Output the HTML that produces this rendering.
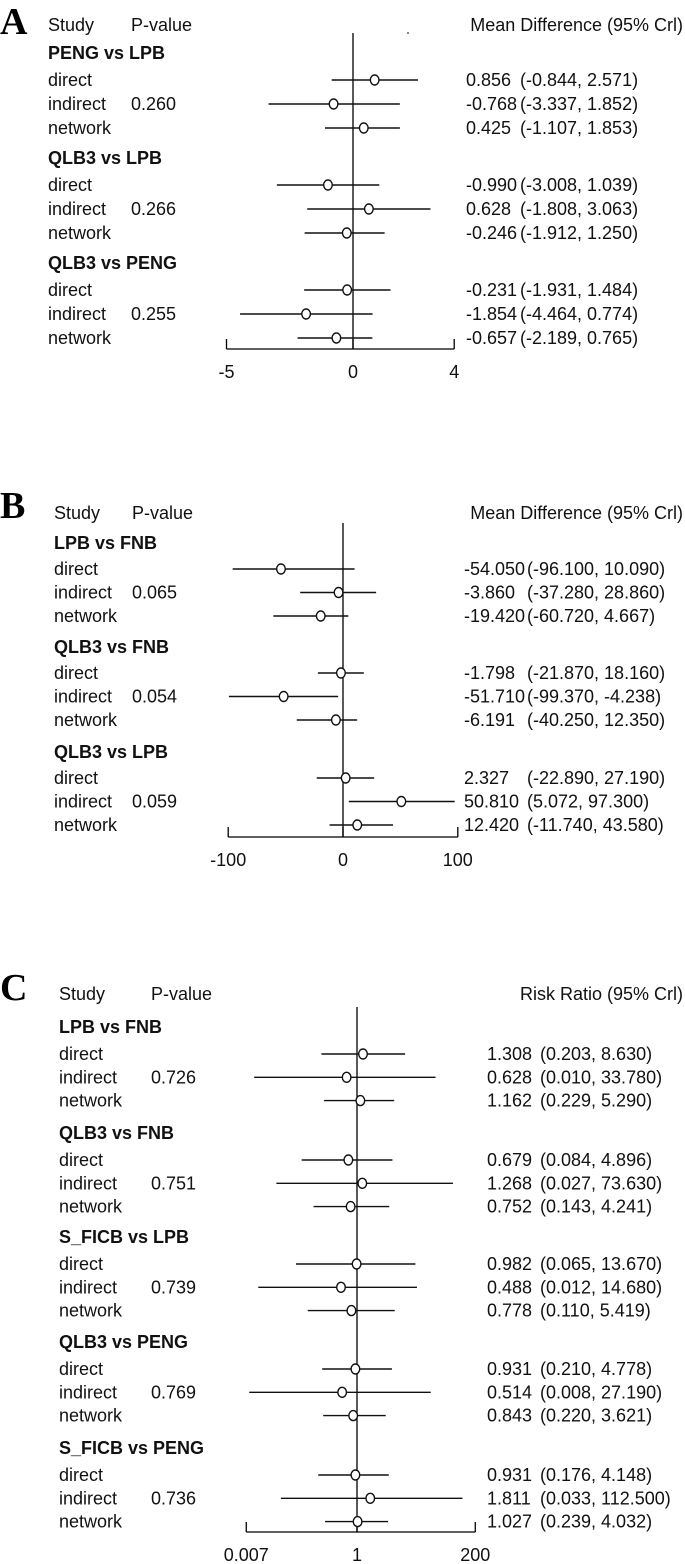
<!DOCTYPE html>
<html><head><meta charset="utf-8"><style>
html,body{margin:0;padding:0;background:#fff;}
svg{display:block;font-family:"Liberation Sans",Arial,sans-serif;}
</style></head><body>
<svg id="fig" width="685" height="1564" viewBox="0 0 685 1564" xmlns="http://www.w3.org/2000/svg"></svg>
<script>
// ---- Panel A data ----
const aGroups = ["PENG vs LPB","QLB3 vs LPB","QLB3 vs PENG"];
const aPvals = ["0.260","0.266","0.255"];
const aEst = [0.856,-0.768,0.425,-0.990,0.628,-0.246,-0.231,-1.854,-0.657];
const aLo = [-0.844,-3.337,-1.107,-3.008,-1.808,-1.912,-1.931,-4.464,-2.189];
const aHi = [2.571,1.852,1.853,1.039,3.063,1.250,1.484,0.774,0.765];
const aTicks = [-5,0,4];
const aTickLabels = ["-5","0","4"];
// ---- Panel B data ----
const bGroups = ["LPB vs FNB","QLB3 vs FNB","QLB3 vs LPB"];
const bPvals = ["0.065","0.054","0.059"];
const bEst = [-54.050,-3.860,-19.420,-1.798,-51.710,-6.191,2.327,50.810,12.420];
const bLo = [-96.100,-37.280,-60.720,-21.870,-99.370,-40.250,-22.890,5.072,-11.740];
const bHi = [10.090,28.860,4.667,18.160,-4.238,12.350,27.190,97.300,43.580];
const bTicks = [-100,0,100];
const bTickLabels = ["-100","0","100"];
// ---- Panel C data ----
const cGroups = ["LPB vs FNB","QLB3 vs FNB","S_FICB vs LPB","QLB3 vs PENG","S_FICB vs PENG"];
const cPvals = ["0.726","0.751","0.739","0.769","0.736"];
const cEst = [1.308,0.628,1.162,0.679,1.268,0.752,0.982,0.488,0.778,0.931,0.514,0.843,0.931,1.811,1.027];
const cLo = [0.203,0.010,0.229,0.084,0.027,0.143,0.065,0.012,0.110,0.210,0.008,0.220,0.176,0.033,0.239];
const cHi = [8.630,33.780,5.290,4.896,73.630,4.241,13.670,14.680,5.419,4.778,27.190,3.621,4.148,112.500,4.032];
const cTicks = [0.007,1,200];
const cTickLabels = ["0.007","1","200"];

const rowTypes = ["direct","indirect","network"];
const NS="http://www.w3.org/2000/svg";
const svg=document.getElementById('fig');
function mk(tag,attrs,parent){const e=document.createElementNS(NS,tag);for(const k in attrs)e.setAttribute(k,attrs[k]);(parent||svg).appendChild(e);return e;}
function txt(s,x,y,opts,parent){const t=mk('text',Object.assign({x:x,y:y,'font-size':18,fill:'#111'},opts||{}),parent);t.textContent=s;return t;}
function fmt(v){return v.toFixed(3);}

function panel(cfg){
  const g=mk('g',{});
  
  
  const X=cfg.x;
  const lt=txt(cfg.letter,0,cfg.letterY,{'font-size':38,'font-weight':'bold','font-family':'"Liberation Serif",serif',fill:'#000'},g);
  
  
  const h1=txt('Study',cfg.labelX,cfg.headY+6,{},g);
  
  
  const h2=txt('P-value',cfg.pX,cfg.headY+6,{},g);
  
  
  const h3=txt(cfg.measure,683,cfg.headY+6,{'text-anchor':'end'},g);
  
  
  const z=mk('line',{x1:X(cfg.nullV),x2:X(cfg.nullV),y1:cfg.zeroTop,y2:cfg.axisY,stroke:'#000','stroke-width':1.3},g);
  
  
  const ax=mk('line',{x1:X(cfg.ticks[0]),x2:X(cfg.ticks[cfg.ticks.length-1]),y1:cfg.axisY,y2:cfg.axisY,stroke:'#000','stroke-width':1.3},g);
  
  
  cfg.ticks.forEach((t,i)=>{
    const tk=mk('line',{x1:X(t),x2:X(t),y1:cfg.axisY,y2:cfg.axisY-10,stroke:'#000','stroke-width':1.3},g);
    
    
    const tl=txt(cfg.tickLabels[i],X(t),cfg.axisY+29,{'text-anchor':'middle'},g);
    
    
  });
  cfg.groups.forEach((name,gi)=>{
    const hy=cfg.groupY[gi];
    const gh=txt(name,cfg.labelX,hy+6,{'font-weight':'bold'},g);
    
    
    for(let r=0;r<3;r++){
      const i=gi*3+r;
      const y=hy+cfg.firstOff+r*cfg.rowStep;
      const rl=txt(rowTypes[r],cfg.labelX,y+6,{},g);
      
      
      if(r===1){
        const pv=txt(cfg.pvals[gi],cfg.pX,y+6,{},g);
        
        
      }
      const ci=mk('line',{x1:X(cfg.lo[i]),x2:X(cfg.hi[i]),y1:y,y2:y,stroke:'#111','stroke-width':1.4},g);
      
      
      const pt=mk('ellipse',{cx:X(cfg.est[i]),cy:y,rx:4.3,ry:5,fill:'#fff',stroke:'#111','stroke-width':1.4},g);
      
      
      const ev=txt(fmt(cfg.est[i]),cfg.estX,y+6,{},g);
      
      
      const cv=txt('('+fmt(cfg.lo[i])+', '+fmt(cfg.hi[i])+')',cfg.ciX,y+6,{},g);
      
      
    }
  });
}

panel({id:'a',letter:'A',letterY:34,headY:25,labelX:48,pX:131,measure:'Mean Difference (95% Crl)',
  x:v=>353+v*25.3,nullV:0,zeroTop:33,axisY:349,ticks:aTicks,tickLabels:aTickLabels,
  groups:aGroups,pvals:aPvals,est:aEst,lo:aLo,hi:aHi,groupY:[53,158,263],firstOff:27,rowStep:24,estX:466,ciX:520});
panel({id:'b',letter:'B',letterY:518,headY:513,labelX:54,pX:132,measure:'Mean Difference (95% Crl)',
  x:v=>343+v*1.148,nullV:0,zeroTop:523,axisY:837,ticks:bTicks,tickLabels:bTickLabels,
  groups:bGroups,pvals:bPvals,est:bEst,lo:bLo,hi:bHi,groupY:[543,647,752],firstOff:26,rowStep:23.5,estX:464,ciX:527});
panel({id:'c',letter:'C',letterY:1000,headY:994,labelX:59,pX:151,measure:'Risk Ratio (95% Crl)',
  x:v=>357+Math.log10(v)*51.4,nullV:1,zeroTop:1007,axisY:1532,ticks:cTicks,tickLabels:cTickLabels,
  groups:cGroups,pvals:cPvals,est:cEst,lo:cLo,hi:cHi,groupY:[1027,1133,1237,1342,1448],firstOff:27,rowStep:23.3,estX:487,ciX:540});
const dot=mk('circle',{cx:408,cy:33,r:0.9,fill:'#333'});


</script>
</body></html>
